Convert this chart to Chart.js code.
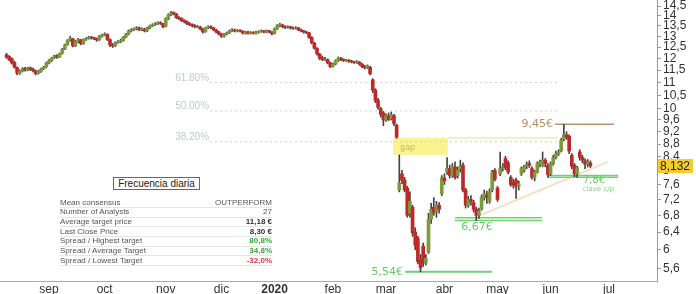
<!DOCTYPE html>
<html><head><meta charset="utf-8">
<script src="https://cdn.jsdelivr.net/npm/chart.js@4"></script>
<style>
html,body{margin:0;padding:0;background:#fff;}
#wrap{position:relative;width:696px;height:294px;overflow:hidden;font-family:"Liberation Sans",Arial,sans-serif;}
#c{position:absolute;left:0;top:0;}
.freq{position:absolute;left:113px;top:177px;width:85px;height:11px;border:1px solid #666;font-size:10px;line-height:11px;text-align:center;color:#222;background:#fff;}
#tbl{position:absolute;left:60px;top:198.5px;width:212px;border-collapse:collapse;font-size:8px;color:#555;}
#tbl td{height:8.67px;padding:0;line-height:8px;border-bottom:1px solid #e6e6e6;white-space:nowrap;}
#tbl td.v{text-align:right;}
</style></head>
<body>
<div id="wrap">
<canvas id="c" width="696" height="294"></canvas>
<div class="freq">Frecuencia diaria</div>
<table id="tbl"></table>
</div>
<script>
// ---- data (trading-day index 0 = first candle) ----
const O = [
12.15,12.08,11.98,11.82,11.60,11.36,11.46,11.58,11.50,11.60,
11.54,11.46,11.36,11.44,11.56,11.64,11.80,11.92,12.02,12.12,
12.06,12.22,12.42,12.62,12.82,12.88,12.56,12.76,12.84,12.66,
12.86,12.90,12.96,12.93,12.90,12.84,13.00,13.06,13.08,12.84,
12.62,12.56,12.70,12.76,12.80,12.96,13.10,13.26,13.30,13.36,
13.40,13.30,13.34,13.26,13.40,13.50,13.56,13.60,13.66,13.60,
13.48,13.86,14.06,14.16,14.08,13.90,13.86,13.76,13.70,13.60,
13.56,13.50,13.42,13.44,13.34,13.22,13.40,13.46,13.40,13.30,
13.20,13.10,13.00,13.10,13.16,13.26,13.30,13.24,13.28,13.24,
13.14,13.20,13.14,13.18,13.14,13.18,13.22,13.26,13.20,13.26,
13.20,13.14,13.36,13.50,13.54,13.46,13.42,13.46,13.40,13.38,
13.40,13.30,13.26,13.20,13.16,12.94,12.68,12.44,12.18,12.02,
11.92,11.94,11.80,11.66,11.76,11.90,12.00,11.96,11.90,11.92,
11.88,11.86,11.82,11.84,11.74,11.66,11.60,11.62,11.10,10.70,
10.30,10.00,9.85,9.60,9.75,9.65,9.75,9.42,7.45,7.90,
7.72,7.50,6.85,7.00,6.40,6.25,5.78,6.08,5.72,5.95,
6.70,7.00,6.90,7.05,7.35,7.78,7.95,8.05,7.85,8.10,
7.85,8.05,8.15,7.45,7.05,7.20,7.12,6.95,6.80,6.95,
7.25,7.30,7.15,7.45,8.00,7.50,7.90,8.05,8.35,8.22,
7.80,7.65,7.72,7.55,7.90,8.00,8.12,8.20,8.05,7.80,
7.95,8.18,8.15,8.30,8.15,7.90,8.20,8.38,8.50,8.58,
8.95,9.10,9.05,8.45,8.15,7.90,8.55,8.38,8.28,8.18,
8.22];
const H = [
12.22,12.12,12.02,11.88,11.64,11.50,11.60,11.62,11.62,11.63,
11.58,11.50,11.49,11.58,11.66,11.84,11.94,12.04,12.14,12.16,
12.24,12.44,12.64,12.84,13.00,12.90,12.80,12.90,12.86,12.88,
12.94,13.00,12.99,12.96,12.92,13.04,13.10,13.16,13.12,12.88,
12.66,12.74,12.80,12.86,12.99,13.14,13.30,13.36,13.40,13.46,
13.44,13.40,13.38,13.44,13.54,13.60,13.66,13.70,13.70,13.62,
13.90,14.10,14.22,14.20,14.12,13.96,13.90,13.80,13.74,13.66,
13.60,13.56,13.52,13.48,13.38,13.44,13.50,13.50,13.42,13.34,
13.24,13.14,13.14,13.20,13.30,13.36,13.34,13.32,13.32,13.26,
13.24,13.24,13.22,13.22,13.24,13.26,13.30,13.28,13.30,13.28,
13.22,13.40,13.56,13.62,13.58,13.50,13.50,13.48,13.44,13.46,
13.42,13.34,13.28,13.24,13.18,12.98,12.72,12.48,12.22,12.10,
12.04,11.98,11.84,11.80,11.94,12.06,12.04,11.98,11.96,11.94,
11.92,11.88,11.90,11.86,11.78,11.70,11.72,11.66,11.15,10.75,
10.38,10.05,9.90,9.82,9.85,9.88,9.80,9.46,8.46,8.00,
7.80,7.55,7.40,7.05,6.50,6.30,5.90,6.15,5.90,6.85,
7.10,7.25,7.15,7.12,7.85,7.90,8.38,8.15,8.20,8.25,
8.10,8.30,8.22,7.50,7.28,7.30,7.18,7.00,6.98,7.32,
7.45,7.42,7.48,8.00,8.05,7.55,8.55,8.20,8.42,8.28,
7.85,7.75,7.78,7.70,8.10,8.15,8.25,8.28,8.10,8.00,
8.25,8.30,8.55,8.35,8.20,8.25,8.45,8.58,8.62,8.98,
9.45,9.20,9.10,8.50,8.20,8.12,8.62,8.45,8.34,8.32,
8.28];
const L = [
12.00,11.90,11.75,11.58,11.30,11.32,11.42,11.45,11.47,11.48,
11.42,11.30,11.33,11.40,11.52,11.60,11.76,11.86,11.98,12.00,
12.03,12.18,12.38,12.58,12.76,12.50,12.52,12.70,12.60,12.62,
12.80,12.86,12.86,12.84,12.76,12.80,12.96,13.02,12.80,12.52,
12.48,12.52,12.66,12.70,12.76,12.92,13.06,13.20,13.26,13.30,
13.26,13.26,13.20,13.22,13.36,13.46,13.50,13.56,13.56,13.40,
13.44,13.80,14.00,14.04,13.86,13.80,13.70,13.64,13.56,13.50,
13.44,13.40,13.40,13.30,13.14,13.18,13.36,13.36,13.26,13.16,
13.06,12.94,12.96,13.06,13.12,13.22,13.20,13.20,13.20,13.10,
13.10,13.10,13.10,13.10,13.10,13.14,13.18,13.16,13.16,13.16,
13.06,13.10,13.32,13.46,13.40,13.36,13.38,13.34,13.32,13.34,
13.26,13.20,13.14,13.12,12.90,12.64,12.40,12.14,11.94,11.90,
11.90,11.76,11.60,11.62,11.72,11.86,11.90,11.86,11.86,11.82,
11.80,11.78,11.78,11.70,11.60,11.54,11.56,11.30,10.60,10.22,
9.98,9.70,9.40,9.55,9.58,9.60,9.40,8.98,7.40,7.62,
7.40,6.75,6.75,6.30,6.00,5.70,5.54,5.65,5.68,5.92,
6.60,6.80,6.75,6.85,7.30,7.60,7.88,7.78,7.80,7.75,
7.78,7.95,7.40,6.98,7.00,7.05,6.88,6.67,6.72,6.92,
7.18,7.10,7.10,7.40,7.70,7.15,7.85,7.98,8.02,7.90,
7.55,7.50,7.23,7.45,7.85,7.95,8.05,8.08,7.75,7.70,
7.92,8.10,8.10,8.10,7.80,7.85,8.15,8.34,8.44,8.55,
8.90,8.95,8.50,8.05,7.82,7.80,8.30,8.22,8.05,8.10,
8.08];
const C = [
12.05,11.95,11.80,11.62,11.38,11.45,11.55,11.50,11.58,11.52,
11.48,11.35,11.45,11.55,11.62,11.80,11.90,12.00,12.10,12.05,
12.20,12.40,12.60,12.80,12.90,12.55,12.75,12.85,12.65,12.85,
12.90,12.95,12.92,12.90,12.82,13.00,13.05,13.10,12.85,12.60,
12.55,12.70,12.75,12.80,12.95,13.10,13.25,13.30,13.35,13.40,
13.30,13.35,13.25,13.40,13.50,13.55,13.60,13.65,13.62,13.45,
13.85,14.05,14.15,14.10,13.90,13.85,13.75,13.70,13.60,13.55,
13.50,13.45,13.45,13.35,13.20,13.40,13.45,13.40,13.30,13.20,
13.10,13.00,13.10,13.15,13.25,13.30,13.25,13.28,13.25,13.15,
13.20,13.15,13.18,13.15,13.20,13.22,13.25,13.20,13.25,13.20,
13.12,13.35,13.50,13.55,13.45,13.42,13.45,13.40,13.38,13.40,
13.30,13.25,13.20,13.18,12.95,12.70,12.45,12.20,12.00,11.95,
11.95,11.80,11.65,11.75,11.90,12.00,11.95,11.90,11.92,11.88,
11.85,11.82,11.85,11.75,11.65,11.60,11.68,11.35,10.70,10.30,
10.05,9.80,9.60,9.75,9.62,9.78,9.48,9.02,7.64,7.72,
7.45,6.80,7.15,6.38,6.10,5.75,5.62,5.72,5.82,6.70,
6.95,6.88,7.05,6.95,7.78,7.70,8.06,7.85,8.10,7.80,
8.00,8.12,7.45,7.05,7.20,7.15,6.95,6.80,6.90,7.25,
7.35,7.25,7.40,7.95,7.75,7.20,8.05,8.10,8.08,7.95,
7.60,7.58,7.55,7.62,8.05,8.10,8.18,8.15,7.80,7.95,
8.20,8.25,8.30,8.20,7.88,8.20,8.38,8.50,8.55,8.92,
9.10,9.02,8.58,8.12,7.90,8.08,8.38,8.30,8.18,8.25,
8.13];

const monthIdx = [16,37,60,81,101,123,143,165,185,205,227];
const monthLbl = ['sep','oct','nov','dic','2020','feb','mar','abr','may','jun','jul'];
const yTicks = [5.6,6,6.4,6.8,7.2,7.6,8,8.4,8.8,9.2,9.6,10,10.5,11,11.5,12,12.5,13,13.5,14,14.5];
const xRange = [-2.45, 245.1];
const yRange = [5.36, 14.82];

// Fibonacci retracement levels
const fibLevels = [10.99, 9.92, 8.87];
const fibLabels = ['61.80%','50.00%','38.20%'];
const fibSpan = [76.7, 207.4];

// gap zone [x from, x to, top price, bottom price] and its extension
const gapZone = [145.6, 166.3, 9.00, 8.46];
const gapLineEnd = 207.4;

// support / resistance levels
const supports = [
  {v:5.54, from:150.2, to:182.9},
  {v:6.74, from:169.0, to:201.8},
  {v:6.67, from:169.0, to:201.8},
  {v:7.85, from:204.0, to:230.5},
  {v:7.80, from:204.0, to:230.5}
];
const resistance = {v:9.45, from:206.7, to:228.9};
const trend = {x:[177.7, 226.6], v:[6.78, 8.25]};
const lastPrice = 8.132;

// text notes [text, x index, price]
const notes = [
  ['9,45€', 205.9, 9.45],
  ['6,67€', 171.3, 6.51],
  ['5,54€', 149.4, 5.54],
  ['7,8€', 221.4, 7.71],
  ['clave c/p', 223.0, 7.48],
  ['gap', 148.3, 8.69]
];

const tblLabels = ['Mean consensus','Number of Analysts','Average target price','Last Close Price','Spread / Highest target','Spread / Average Target','Spread / Lowest Target'];
const tblValues = ['OUTPERFORM','27','11,18 €','8,30 €','80,8%','34,8%','-32,0%'];

// ---- table ----
const tblStyles = ['', '', 'font-weight:bold;color:#333', 'font-weight:bold;color:#333', 'font-weight:bold;color:#3aa53a', 'font-weight:bold;color:#3aa53a', 'font-weight:bold;color:#d83a3a'];
const tbl = document.getElementById('tbl');
tblLabels.forEach((lb, i) => {
  const tr = document.createElement('tr');
  const a = document.createElement('td'); a.textContent = lb;
  const b = document.createElement('td'); b.className = 'v'; b.textContent = tblValues[i];
  if (tblStyles[i]) b.setAttribute('style', tblStyles[i]);
  tr.appendChild(a); tr.appendChild(b); tbl.appendChild(tr);
});

// ---- chart ----
const UP = '#7f9a3a', DOWN = '#c02828', WICK = '#444444';
const GREEN = '#6fd36f';
const idx = C.map((_, i) => i);
const bodyData = idx.map(i => ({x: i, y: [O[i], C[i]]}));
const wickData = idx.map(i => ({x: i, y: [L[i], H[i]]}));
const bodyColors = idx.map(i => C[i] >= O[i] ? UP : DOWN);

function seg(x0, x1, v0, v1, color, width, dash) {
  return {type:'line', data:[{x:x0, y:v0},{x:x1, y:v1}], borderColor:color, borderWidth:width,
    borderDash:dash || [], pointRadius:0, pointHoverRadius:0, fill:false, tension:0};
}

const datasets = [
  {type:'bar', data:bodyData, backgroundColor:bodyColors, borderWidth:0, barThickness:3, grouped:false},
  {type:'bar', data:wickData, backgroundColor:WICK, borderWidth:0, barThickness:1, grouped:false}
];
fibLevels.forEach(v => datasets.push(seg(fibSpan[0], fibSpan[1], v, v, '#c9ced8', 1, [2,3])));
datasets.push(seg(gapZone[1], gapLineEnd, gapZone[2], gapZone[2], '#f3e6a0', 1.2));
supports.forEach(s => datasets.push(seg(s.from, s.to, s.v, s.v, GREEN, s.v < 6 ? 2 : 1.5)));
datasets.push(seg(resistance.from, resistance.to, resistance.v, resistance.v, '#b49572', 1.5));
datasets.push(seg(trend.x[0], trend.x[1], trend.v[0], trend.v[1], '#f5dfc2', 2));

const noteStyle = {
  '9,45€': {font:'11px "DejaVu Sans"', color:'#b48f5a', align:'right'},
  '6,67€': {font:'11px "DejaVu Sans"', color:'#5fcf5f', align:'left'},
  '5,54€': {font:'11px "DejaVu Sans"', color:'#5fcf5f', align:'right'},
  '7,8€': {font:'10px "DejaVu Sans"', color:'#5fcf5f', align:'center'},
  'clave c/p': {font:'7px "DejaVu Sans"', color:'#7fd87f', align:'center'},
  'gap': {font:'8px "DejaVu Sans"', color:'#c9b66a', align:'left'}
};

const annot = {
  id:'annot',
  beforeDatasetsDraw(chart) {
    const {ctx, scales:{x, y}} = chart;
    ctx.save();
    const x0 = x.getPixelForValue(gapZone[0]), x1 = x.getPixelForValue(gapZone[1]);
    const y0 = y.getPixelForValue(gapZone[2]), y1 = y.getPixelForValue(gapZone[3]);
    ctx.fillStyle = '#fcf290';
    ctx.fillRect(x0, y0, x1 - x0, y1 - y0);
    ctx.restore();
  },
  afterDatasetsDraw(chart) {
    const {ctx, scales:{x, y}} = chart;
    ctx.save();
    ctx.textBaseline = 'alphabetic';
    ctx.font = '10px "Liberation Sans", Arial';
    ctx.fillStyle = '#c2c8d6';
    ctx.textAlign = 'right';
    fibLevels.forEach((v, i) => {
      ctx.fillText(fibLabels[i], x.getPixelForValue(fibSpan[0]) - 1, y.getPixelForValue(v) - 2);
    });
    ctx.textBaseline = 'middle';
    notes.forEach(n => {
      const st = noteStyle[n[0]];
      ctx.font = st.font; ctx.fillStyle = st.color; ctx.textAlign = st.align;
      ctx.fillText(n[0], x.getPixelForValue(n[1]), y.getPixelForValue(n[2]));
    });
    ctx.restore();
  },
  afterDraw(chart) {
    const {ctx, scales:{y}} = chart;
    const py = y.getPixelForValue(lastPrice);
    ctx.save();
    ctx.fillStyle = '#f6cd2e';
    ctx.fillRect(y.left + 1, Math.round(py) - 7, 35, 14);
    ctx.fillStyle = '#222';
    ctx.font = '12px "Liberation Sans", Arial';
    ctx.textAlign = 'left';
    ctx.textBaseline = 'middle';
    ctx.fillText(String(lastPrice).replace('.', ','), y.left + 3, Math.round(py) + 0.5);
    ctx.restore();
  }
};

new Chart(document.getElementById('c'), {
  type:'bar',
  data:{datasets},
  options:{
    responsive:false, maintainAspectRatio:false, animation:false, devicePixelRatio:1,
    layout:{padding:0},
    plugins:{legend:{display:false}, tooltip:{enabled:false}},
    events:[],
    scales:{
      x:{
        type:'linear', min:xRange[0], max:xRange[1], offset:false,
        grid:{display:true, drawOnChartArea:false, drawTicks:false},
        border:{display:true, color:'#aaaaaa'},
        ticks:{
          autoSkip:false, maxRotation:0, padding:1, color:'#333',
          font:(ctx) => ({family:'"Liberation Sans", Arial', size:12, weight: ctx.index === 4 ? 'bold' : 'normal'}),
          callback:(v) => { const k = monthIdx.indexOf(v); return k >= 0 ? monthLbl[k] : ''; }
        },
        afterBuildTicks:(s) => { s.ticks = monthIdx.map(v => ({value:v})); },
        afterFit:(s) => { s.height = 13; s.paddingLeft = 0; s.paddingRight = 0; }
      },
      y:{
        type:'logarithmic', position:'right', min:yRange[0], max:yRange[1],
        grid:{display:true, drawOnChartArea:false, drawTicks:true, tickLength:4, color:'#999'},
        border:{display:true, color:'#999'},
        ticks:{
          autoSkip:false, padding:2, color:'#333', font:{family:'"Liberation Sans", Arial', size:12},
          callback:(v) => String(v).replace('.', ',')
        },
        afterBuildTicks:(s) => { s.ticks = yTicks.map(v => ({value:v})); },
        afterFit:(s) => { s.width = 39; s.paddingTop = 0; s.paddingBottom = 0; }
      }
    }
  },
  plugins:[annot]
});
</script>
</body></html>
